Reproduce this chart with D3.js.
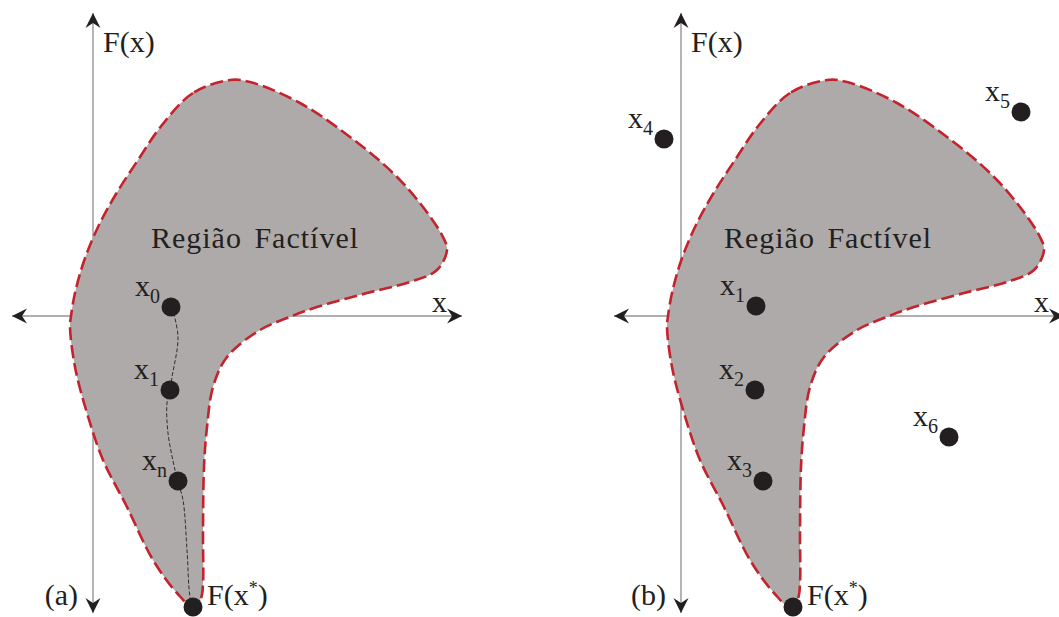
<!DOCTYPE html>
<html>
<head>
<meta charset="utf-8">
<script src="https://cdn.jsdelivr.net/npm/d3@7/dist/d3.min.js"></script>
</head>
<body style="margin:0">
<div id="chart"></div>
<script>
// feasible region outline, in axis units (origin = axes crossing, y up)
var regionX = [137, 100, 69, 45, 23, 5, -9, -18, -22, -23, -18, -6, 10, 34, 60, 84, 100, 108, 110, 110, 111, 114, 120, 134, 167, 194, 224, 274, 317, 344, 354, 350, 330, 300, 257, 207, 157];
var regionY = [236, 223, 191, 156, 122, 89, 55, 23, 0, -11, -51, -97, -144, -191, -244, -277, -291, -282, -267, -217, -151, -111, -71, -41, -14, -2, 9, 23, 34, 46, 66, 79, 109, 143, 179, 213, 234];

// panel (a): iterates walking towards the optimum
var pointsA = ["x0", "x1", "xn"];
var pointsAX = [78, 77, 85];
var pointsAY = [9, -74, -165];
var pathAX = [79, 85, 79, 77, 74, 75, 82, 85, 90, 94, 97, 100];
var pathAY = [9, -21, -61, -74, -87, -117, -154, -166, -184, -234, -281, -291];
var optimumA = [100, -291];

// panel (b): feasible and unfeasible points
var pointsB = ["x4", "x5", "x1", "x2", "x3", "x6"];
var pointsBX = [-17, 340, 75, 74, 82, 268];
var pointsBY = [177, 204, 10, -74, -165, -121];
var optimumB = [112, -291];

var panelLabels = ["(a)", "(b)"];
var regionLabel = "Região Factível";

var width = 1059, height = 617;
var ink = "#231f20";

var panels = [
    { name: panelLabels[0], ox: 93, oy: 316, shapeDx: 0, xMin: -81, xMax: 369, textX: 162,
      pts: pointsA, px: pointsAX, py: pointsAY, opt: optimumA, path: true },
    { name: panelLabels[1], ox: 681, oy: 316, shapeDx: 9, xMin: -67, xMax: 383, textX: 147,
      pts: pointsB, px: pointsBX, py: pointsBY, opt: optimumB, path: false }
];

var svg = d3.select("#chart").append("svg")
    .attr("width", width)
    .attr("height", height)
    .style("display", "block");

var defs = svg.append("defs");
defs.append("marker")
    .attr("id", "arrow")
    .attr("viewBox", "-16 -8 17 16")
    .attr("refX", 0)
    .attr("refY", 0)
    .attr("markerWidth", 17)
    .attr("markerHeight", 16)
    .attr("markerUnits", "userSpaceOnUse")
    .attr("orient", "auto-start-reverse")
    .append("path")
    .attr("d", "M0,0 L-15,-7.5 L-10,0 L-15,7.5 Z")
    .attr("fill", ink);

function label(g, px, py, size) {
    return g.append("text")
        .attr("x", px).attr("y", py)
        .attr("font-family", "Liberation Serif")
        .attr("font-size", size)
        .attr("fill", ink);
}

panels.forEach(function(p) {
    var x = d3.scaleLinear().domain([0, 100]).range([p.ox, p.ox + 100]);
    var y = d3.scaleLinear().domain([0, 100]).range([p.oy, p.oy - 100]);

    var g = svg.append("g").attr("class", "panel");

    // axes
    g.append("line")
        .attr("x1", x(p.xMin)).attr("x2", x(p.xMax))
        .attr("y1", y(0)).attr("y2", y(0))
        .attr("stroke", "#949494").attr("stroke-width", 1.4)
        .attr("marker-start", "url(#arrow)")
        .attr("marker-end", "url(#arrow)");
    g.append("line")
        .attr("x1", x(0)).attr("x2", x(0))
        .attr("y1", y(303)).attr("y2", y(-297))
        .attr("stroke", "#949494").attr("stroke-width", 1.4)
        .attr("marker-start", "url(#arrow)")
        .attr("marker-end", "url(#arrow)");

    // region
    var outline = regionX.map(function(d, i) { return [d + p.shapeDx, regionY[i]]; });
    var line = d3.line()
        .x(function(d) { return x(d[0]); })
        .y(function(d) { return y(d[1]); })
        .curve(d3.curveCatmullRomClosed.alpha(0.5));
    g.append("path")
        .datum(outline)
        .attr("d", line)
        .attr("fill", "#aeaaa9")
        .attr("stroke", "#c4222c")
        .attr("stroke-width", 2.6)
        .attr("stroke-dasharray", "13,5");

    label(g, x(p.textX), y(68), 30)
        .attr("text-anchor", "middle")
        .attr("letter-spacing", 1)
        .attr("word-spacing", 4)
        .text(regionLabel);

    // axis labels
    label(g, x(10), y(264), 30).text("F(x)");
    label(g, x(p.xMax - 30), y(4), 30).text("x");
    label(g, x(-15), y(-289), 30)
        .attr("text-anchor", "end")
        .text(p.name);

    // iterate path
    if (p.path) {
        var iter = pathAX.map(function(d, i) { return [d, pathAY[i]]; });
        g.append("path")
            .datum(iter)
            .attr("d", d3.line()
                .x(function(d) { return x(d[0]); })
                .y(function(d) { return y(d[1]); })
                .curve(d3.curveCatmullRom))
            .attr("fill", "none")
            .attr("stroke", ink)
            .attr("stroke-width", 0.9)
            .attr("stroke-dasharray", "4,2");
    }

    // points
    p.pts.forEach(function(name, i) {
        var cx = x(p.px[i]), cy = y(p.py[i]);
        g.append("circle")
            .attr("cx", cx).attr("cy", cy).attr("r", 9.5)
            .attr("fill", ink);
        var t = label(g, cx - 36, cy - 11, 30);
        t.append("tspan").text(name.charAt(0));
        t.append("tspan").attr("font-size", 20).attr("dy", 7).text(name.slice(1));
    });

    // optimum
    var ox = x(p.opt[0]), oy = y(p.opt[1]);
    g.append("circle")
        .attr("cx", ox).attr("cy", oy).attr("r", 9.5)
        .attr("fill", ink);
    var f = label(g, ox + 14, oy - 2, 30);
    f.append("tspan").text("F(x");
    f.append("tspan").attr("font-size", 18).attr("dy", -11).text("*");
    f.append("tspan").attr("dy", 11).text(")");
});
</script>
</body>
</html>
